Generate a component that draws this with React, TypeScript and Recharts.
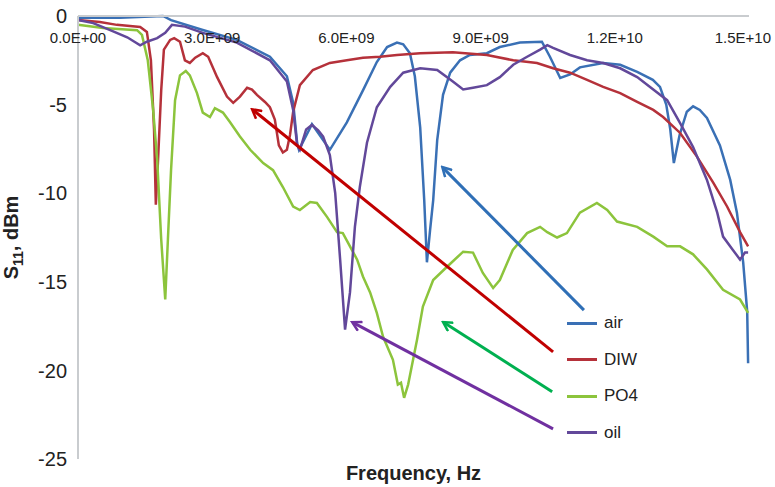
import React from "react";
import {
  LineChart,
  Line,
  XAxis,
  YAxis,
  ReferenceLine,
} from "recharts";

// frequencies in GHz (axis shows Hz), S11 in dB
const airGHz = [0, 0.94, 1.9, 2.08, 2.79, 3.55, 4.29, 4.67, 4.81, 4.9, 4.94, 5.23, 5.63, 6.01, 6.37, 6.68, 6.91, 7.13, 7.27, 7.42, 7.53, 7.65, 7.74, 7.8, 7.87, 7.94, 8.03, 8.16, 8.32, 8.54, 8.76, 9.14, 9.43, 9.88, 10.37, 10.55, 10.78, 11.0, 11.22, 11.74, 12.12, 12.5, 12.85, 13.01, 13.15, 13.24, 13.32, 13.45, 13.61, 13.75, 13.9, 14.06, 14.35, 14.58, 14.73, 14.87, 14.96, 14.98];
const airDb = [-0.1, -0.1, 0, -0.23, -0.79, -1.35, -2.3, -3.4, -4.9, -7.2, -7.55, -6.1, -7.55, -6.0, -4.2, -2.6, -1.75, -1.5, -1.6, -2.1, -3.4, -6.3, -10.4, -13.9, -12.1, -10.4, -7.0, -4.45, -3.2, -2.5, -2.2, -2.1, -1.75, -1.5, -1.45, -2.3, -3.5, -3.3, -2.9, -2.65, -2.75, -3.15, -3.6, -4.0, -5.0, -6.4, -8.3, -6.7, -5.4, -5.1, -5.3, -5.75, -7.3, -9.25, -11.1, -13.9, -16.7, -19.6];

const diwGHz = [0, 0.49, 0.87, 1.39, 1.54, 1.63, 1.7, 1.74, 1.79, 1.86, 1.92, 2.06, 2.15, 2.28, 2.39, 2.5, 2.62, 2.79, 2.91, 3.11, 3.33, 3.47, 3.62, 3.78, 3.89, 4.0, 4.18, 4.29, 4.4, 4.49, 4.58, 4.67, 4.74, 4.81, 4.96, 5.25, 5.63, 6.01, 6.37, 6.75, 7.13, 7.65, 8.38, 9.14, 9.73, 10.26, 10.62, 11.0, 11.38, 11.74, 12.12, 12.5, 12.86, 13.08, 13.46, 13.84, 14.2, 14.51, 14.8, 14.98];
const diwDb = [-0.23, -0.34, -0.5, -0.62, -0.9, -2.5, -6.4, -10.65, -8.1, -4.2, -1.9, -1.35, -1.25, -1.45, -2.5, -2.65, -2.35, -2.1, -2.3, -3.45, -4.55, -4.9, -4.55, -4.05, -4.15, -4.45, -4.85, -5.15, -5.85, -7.3, -7.7, -7.55, -6.7, -5.4, -3.9, -3.05, -2.65, -2.5, -2.35, -2.3, -2.2, -2.1, -2.05, -2.2, -2.5, -2.65, -2.95, -3.2, -3.6, -4.0, -4.35, -4.85, -5.3, -5.7, -6.6, -7.95, -9.4, -10.75, -12.2, -13.0];

const po4GHz = [0, 0.56, 1.32, 1.43, 1.56, 1.68, 1.77, 1.86, 1.95, 2.01, 2.08, 2.17, 2.28, 2.41, 2.5, 2.66, 2.79, 2.95, 3.06, 3.24, 3.4, 3.62, 3.85, 4.14, 4.36, 4.58, 4.81, 4.96, 5.19, 5.34, 5.57, 5.79, 5.92, 6.08, 6.24, 6.37, 6.53, 6.68, 6.82, 7.04, 7.15, 7.22, 7.29, 7.38, 7.49, 7.58, 7.71, 7.94, 8.25, 8.61, 8.83, 9.05, 9.28, 9.43, 9.72, 10.04, 10.33, 10.49, 10.71, 10.93, 11.22, 11.6, 11.83, 12.05, 12.5, 12.86, 13.17, 13.46, 13.75, 14.06, 14.42, 14.8, 14.98];
const po4Db = [-0.5, -0.68, -0.8, -1.07, -2.5, -5.3, -8.1, -12.6, -16.0, -12.6, -8.7, -4.75, -3.35, -3.1, -3.35, -4.35, -5.45, -5.7, -5.2, -5.45, -6.0, -6.8, -7.55, -8.3, -8.7, -9.65, -10.75, -10.95, -10.5, -10.55, -11.35, -12.2, -12.25, -13.0, -13.75, -14.7, -15.6, -16.75, -18.1, -19.4, -20.8, -20.7, -21.55, -20.8, -19.4, -18.25, -16.4, -14.9, -14.15, -13.3, -13.35, -14.5, -15.35, -14.9, -13.2, -12.25, -11.9, -12.2, -12.5, -12.25, -11.1, -10.55, -10.95, -11.6, -11.9, -12.45, -13.0, -13.0, -13.45, -14.3, -15.45, -16.0, -16.75];

const oilGHz = [0, 0.34, 0.72, 1.1, 1.39, 1.54, 1.77, 1.95, 2.1, 2.39, 2.79, 3.55, 4.29, 4.67, 4.81, 4.9, 4.96, 5.1, 5.23, 5.37, 5.48, 5.63, 5.75, 5.86, 5.97, 6.08, 6.19, 6.3, 6.46, 6.68, 6.98, 7.27, 7.65, 8.03, 8.38, 8.61, 8.83, 9.14, 9.43, 9.73, 10.04, 10.33, 10.49, 10.62, 11.0, 11.38, 11.74, 12.12, 12.5, 12.86, 13.17, 13.46, 13.75, 14.06, 14.29, 14.42, 14.64, 14.8, 14.91, 14.98];
const oilDb = [-0.23, -0.4, -0.8, -1.2, -1.65, -1.45, -1.25, -0.95, -0.5, -0.6, -0.95, -1.5, -2.5, -3.7, -5.3, -7.3, -7.55, -6.4, -6.15, -6.45, -6.8, -7.85, -10.0, -13.75, -17.7, -15.6, -11.9, -9.65, -7.15, -5.15, -4.0, -3.2, -2.95, -3.05, -3.7, -4.15, -4.05, -3.9, -3.45, -2.75, -2.3, -1.9, -1.65, -1.8, -2.2, -2.5, -2.65, -2.95, -3.45, -4.15, -4.75, -6.05, -7.4, -9.25, -11.1, -12.45, -13.2, -13.75, -13.35, -13.35];

const seriesNames = ["air", "DIW", "PO4", "oil"];
const seriesColors = ["#3a70b5", "#b5313a", "#8cc43c", "#62489a"];

// annotation arrows: [GHz, dB] tail and head
const arrowColors = ["#2f6fb6", "#c00000", "#00b050", "#7030a0"];
const arrowTails = [[11.31, -16.6], [10.62, -18.95], [10.6, -21.2], [10.62, -23.3]];
const arrowHeads = [[8.16, -8.57], [3.91, -5.3], [8.18, -17.3], [6.15, -17.3]];

const xTicks = [0, 3, 6, 9, 12, 15];
const yTicks = [-25, -20, -15, -10, -5, 0];

const zip = (f: number[], v: number[]) => f.map((x, i) => ({ f: x, s11: v[i] }));
const seriesData = [zip(airGHz, airDb), zip(diwGHz, diwDb), zip(po4GHz, po4Db), zip(oilGHz, oilDb)];

function fmtHz(ghz: number) {
  if (ghz === 0) return "0.0E+00";
  const hz = ghz * 1e9;
  const exp = Math.floor(Math.log10(hz));
  const m = hz / Math.pow(10, exp);
  return `${m.toFixed(1)}E+${String(exp).padStart(2, "0")}`;
}

const FONT = "'Liberation Sans', Arial, sans-serif";

// x labels sit under the top (0 dB) axis line, inside the plot
function XTick(props: any) {
  const { x, payload } = props;
  const last = payload.value === xTicks[xTicks.length - 1];
  return (
    <text x={last ? x + 22 : x} y={43} textAnchor={last ? "end" : "middle"} fontFamily={FONT} fontSize={15} fill="#222">
      {fmtHz(payload.value)}
    </text>
  );
}

function LegendBox() {
  return (
    <div style={{ position: "absolute", left: 567, top: 305, fontFamily: FONT, fontSize: 17, color: "#222" }}>
      {seriesNames.map((n, i) => (
        <div key={n} style={{ display: "flex", alignItems: "center", height: 36.5 }}>
          <span style={{ display: "inline-block", width: 30, height: 3, background: seriesColors[i], marginRight: 7 }} />
          {n}
        </div>
      ))}
    </div>
  );
}

function arrowShape(color: string, id: string) {
  return (p: any) => (
    <g>
      <defs>
        <marker id={id} markerWidth={12} markerHeight={12} refX={9} refY={6} orient="auto" markerUnits="userSpaceOnUse">
          <path d="M1,1 L10,6 L1,11" fill="none" stroke={color} strokeWidth={2.5} />
        </marker>
      </defs>
      <line x1={p.x1} y1={p.y1} x2={p.x2} y2={p.y2} stroke={color} strokeWidth={3} markerEnd={`url(#${id})`} />
    </g>
  );
}

function YTitle(props: any) {
  const vb = props.viewBox || {};
  const cx = 18;
  const cy = vb.y + vb.height / 2;
  return (
    <text x={cx} y={cy} transform={`rotate(-90, ${cx}, ${cy})`} textAnchor="middle" fontFamily={FONT} fontWeight="bold" fontSize={20} fill="#222">
      S<tspan fontSize={14} dy={5}>11</tspan>
      <tspan dy={-5}>, dBm</tspan>
    </text>
  );
}

export default function App() {
  return (
    <div style={{ position: "absolute", left: 0, top: 0, width: 775, height: 487, background: "#fff" }}>
      <LineChart width={775} height={487} margin={{ top: 0, right: 26, bottom: 0, left: 0 }}>
        <XAxis
          dataKey="f"
          type="number"
          orientation="top"
          domain={[0, 15]}
          ticks={xTicks}
          interval={0}
          height={16}
          axisLine={{ stroke: "#c9cccf", strokeWidth: 2 }}
          tickLine={false}
          tick={<XTick />}
        />
        <XAxis
          xAxisId="title"
          type="number"
          domain={[0, 15]}
          orientation="bottom"
          height={28}
          tick={false}
          axisLine={false}
          tickLine={false}
          label={{ value: "Frequency, Hz", position: "insideBottom", offset: 7, fontFamily: FONT, fontWeight: "bold", fontSize: 20, fill: "#222" }}
        />
        <YAxis
          type="number"
          domain={[-25, 0]}
          ticks={yTicks}
          width={78}
          axisLine={{ stroke: "#c9cccf", strokeWidth: 2 }}
          tickLine={false}
          tickMargin={5}
          tick={{ fontFamily: FONT, fontSize: 20, fill: "#222" }}
          label={<YTitle />}
        />
        {seriesData.map((d, i) => (
          <Line
            key={seriesNames[i]}
            data={d}
            dataKey="s11"
            name={seriesNames[i]}
            type="linear"
            stroke={seriesColors[i]}
            strokeWidth={2.5}
            dot={false}
            isAnimationActive={false}
          />
        ))}
        {arrowColors.map((c, i) => (
          <ReferenceLine
            key={`arrow-${i}`}
            segment={[
              { x: arrowTails[i][0], y: arrowTails[i][1] },
              { x: arrowHeads[i][0], y: arrowHeads[i][1] },
            ]}
            ifOverflow="visible"
            shape={arrowShape(c, `ah${i}`)}
          />
        ))}
      </LineChart>
      <LegendBox />
    </div>
  );
}
